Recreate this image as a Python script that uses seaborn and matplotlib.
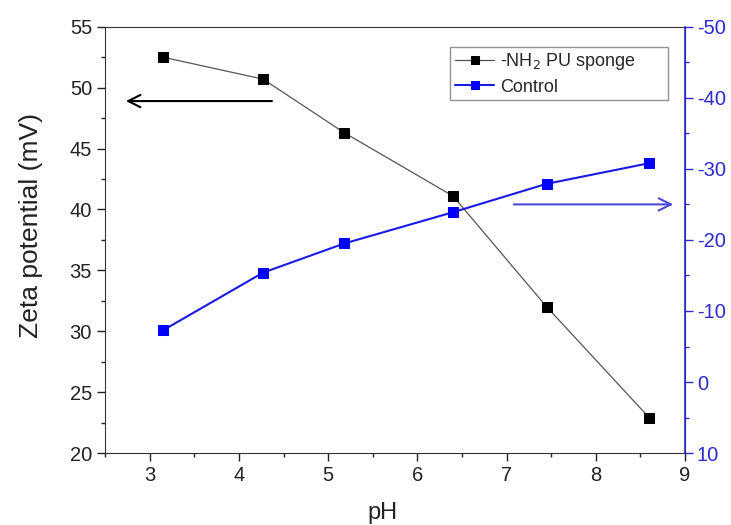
import numpy as np
import pandas as pd
import matplotlib
matplotlib.use("Agg")
import matplotlib.pyplot as plt
from matplotlib.ticker import MultipleLocator
import seaborn as sns

ph = [3.15, 4.27, 5.18, 6.40, 7.45, 8.60]
nh2_zeta = [52.5, 50.7, 46.3, 41.1, 32.0, 22.9]
control_zeta = [-7.3, -15.4, -19.5, -23.9, -27.9, -30.8]

sns.set_style("ticks")
plt.rcParams["font.family"] = ["Liberation Sans", "DejaVu Sans"]
plt.rcParams["axes.unicode_minus"] = False

df_nh2 = pd.DataFrame({"pH": ph, "zeta": nh2_zeta})
df_ctrl = pd.DataFrame({"pH": ph, "zeta": control_zeta})

fig, ax = plt.subplots(figsize=(7.31, 5.25), dpi=100)
fig.subplots_adjust(left=0.144, right=0.937, top=0.949, bottom=0.137)
ax2 = ax.twinx()

sns.lineplot(data=df_nh2, x="pH", y="zeta", ax=ax, color="#555555", lw=0.9,
             marker="s", markersize=6.5, markerfacecolor="black", markeredgecolor="black",
             label="-NH$_2$ PU sponge", legend=False)
sns.lineplot(data=df_ctrl, x="pH", y="zeta", ax=ax2, color="#1a1ae6", lw=1.5,
             marker="s", markersize=6.5, markerfacecolor="#0000ff", markeredgecolor="#0000ff",
             label="Control", legend=False)

ax.set_xlim(2.5, 9)
ax.set_ylim(20, 55)
ax2.set_ylim(10, -50)
ax.xaxis.set_major_locator(MultipleLocator(1))
ax.xaxis.set_minor_locator(MultipleLocator(0.5))
ax.yaxis.set_major_locator(MultipleLocator(5))
ax.yaxis.set_minor_locator(MultipleLocator(2.5))
ax2.yaxis.set_major_locator(MultipleLocator(10))
ax2.yaxis.set_minor_locator(MultipleLocator(5))

ax.tick_params(which="major", direction="out", length=5.5, width=1, labelsize=14.5,
               colors="#222222", pad=4)
ax.tick_params(which="minor", direction="out", length=3, width=1)
ax.tick_params(axis="x", which="both", top=False)
ax2.tick_params(which="major", direction="out", length=5.5, width=1, labelsize=14.5,
                colors="#2b2bd0", pad=3)
ax2.tick_params(which="minor", direction="out", length=3, width=1, colors="#2b2bd0")
for s in ["left", "bottom", "top"]:
    ax.spines[s].set_color("#333333")
ax2.spines["right"].set_color("#2b2bd0")
ax2.spines["right"].set_linewidth(1.2)
ax2.spines["left"].set_visible(False)
ax2.spines["top"].set_visible(False)
ax2.spines["bottom"].set_visible(False)

ax.set_xlabel("pH", fontsize=17, color="#222222")
ax.set_ylabel("Zeta potential (mV)", fontsize=19, color="#222222")
ax.xaxis.set_label_coords(0.478, -0.115)
ax.yaxis.set_label_coords(-0.108, 0.535)
ax2.set_ylabel("")

# direction arrows
ax.annotate("", xy=(2.7, 48.9), xytext=(4.4, 48.9),
            arrowprops=dict(arrowstyle="->", color="black", lw=1.5, mutation_scale=22))
ax2.annotate("", xy=(8.9, -25), xytext=(7.05, -25),
             arrowprops=dict(arrowstyle="->", color="#4a4ad6", lw=1.5, mutation_scale=22))

h1, l1 = ax.get_legend_handles_labels()
h2, l2 = ax2.get_legend_handles_labels()
leg = ax2.legend(h1 + h2, l1 + l2, loc="upper left", bbox_to_anchor=(0.595, 0.82, 0.376, 0.133),
                 mode="expand", fontsize=13, frameon=True, fancybox=False, handlelength=2.2,
                 handletextpad=0.3, borderpad=0.25, labelspacing=0.35, markerscale=0.8,
                 borderaxespad=0)
leg.get_frame().set_edgecolor("#777777")
leg.get_frame().set_linewidth(1)

plt.savefig("out.png", dpi=100)
plt.close()
